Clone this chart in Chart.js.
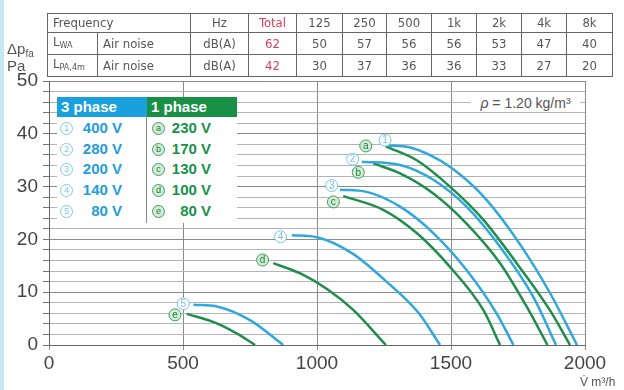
<!DOCTYPE html>
<html><head><meta charset="utf-8">
<script src="https://cdn.jsdelivr.net/npm/chart.js@4/dist/chart.umd.min.js"></script>
<style>
html,body{margin:0;padding:0;background:#fff;}
#wrap{position:relative;width:624px;height:390px;overflow:hidden;background:#fff;}
#strip{position:absolute;left:0;top:0;width:4px;height:390px;background:#c4e7f1;}
canvas{position:absolute;left:0;top:0;}
#tbl{position:absolute;left:47px;top:13px;border-collapse:collapse;font-family:"Liberation Sans Narrow","DejaVu Sans Condensed",sans-serif;font-size:13px;color:#555;table-layout:fixed;}
#tbl td{border:1px solid #666;height:18px;padding:0;text-align:center;line-height:18px;white-space:nowrap;overflow:hidden;}
#tbl td.l{text-align:left;padding-left:5px;}
#tbl td.red{color:#d9405a;}
#tbl sub{font-size:9px;vertical-align:-2px;}
.ytitle{position:absolute;left:7px;font-family:"Liberation Sans",sans-serif;font-size:15px;color:#555;line-height:16px;}
.ytitle sub{font-size:10px;vertical-align:-3px;}
#xtitle{position:absolute;left:580px;top:375px;font-family:"Liberation Sans",sans-serif;font-size:12px;color:#555;white-space:nowrap;}
#rho{position:absolute;left:471px;top:95px;width:109px;height:16px;background:#fff;font-family:"Liberation Sans",sans-serif;font-size:14px;color:#555;text-align:center;line-height:16px;}
#legend{position:absolute;left:57px;top:97px;width:180px;height:126px;background:#fff;font-family:"Liberation Sans",sans-serif;font-weight:bold;font-size:15px;}
#legend .h{position:absolute;top:0;height:20px;line-height:20px;color:#fff;padding-left:4px;box-sizing:border-box;}
#legend .div{position:absolute;left:89px;top:20px;width:1px;height:106px;background:#888;}
.row{position:absolute;height:20px;line-height:20px;}
.circ{position:absolute;width:11px;height:11px;border-radius:50%;font-weight:normal;font-size:9px;line-height:11px;text-align:center;}
</style></head>
<body>
<div id="wrap">
<canvas id="c" width="624" height="390"></canvas>
<div id="strip"></div>
<table id="tbl"></table>
<div class="ytitle" style="top:41px;">Δp<sub>fa</sub></div>
<div class="ytitle" style="top:58px;">Pa</div>
<div id="xtitle">V̇ m³/h</div>
<div id="rho"><i>ρ</i> = 1.20 kg/m³</div>
<div id="legend"></div>
</div>
<script>
// ---- table data ----
const freqBands = ['125','250','500','1k','2k','4k','8k'];
const lwaValues = [50,57,56,56,53,47,40];
const lpaValues = [30,37,36,36,33,27,20];
const lwaTotal = 62, lpaTotal = 42;

// ---- axis ticks ----
const xTicks = [0,500,1000,1500,2000];
const yTicks = [0,10,20,30,40,50];

// ---- legend ----
const threePhaseLabels = ['1','2','3','4','5'];
const threePhaseVolts = ['400 V','280 V','200 V','140 V','80 V'];
const onePhaseLabels = ['a','b','c','d','e'];
const onePhaseVolts = ['230 V','170 V','130 V','100 V','80 V'];

// ---- curves (m3/h, Pa) ----
const c1x = [1260,1340,1420,1500,1620,1745,1870,1970];
const c1y = [37.8,37.5,36.0,33.6,28.2,20.0,9.8,0];
const cax = [1256,1372,1496,1621,1745,1869,1944];
const cay = [37.6,35.0,30.0,23.7,15.5,6.6,0];
const c2x = [1167,1310,1434,1558,1683,1807,1892];
const c2y = [34.7,34.1,31.3,26.2,18.6,9.1,0];
const cbx = [1210,1310,1434,1558,1683,1782,1860];
const cby = [34.4,32.5,28.7,23.0,15.5,7.3,0];
const c3x = [1086,1185,1310,1434,1558,1670,1733];
const c3y = [29.4,29.0,26.2,21.2,14.2,6.0,0];
const ccx = [1098,1247,1372,1496,1621,1683];
const ccy = [28.2,25.6,21.2,14.8,6.6,0];
const c4x = [906,1000,1130,1255,1380,1459];
const c4y = [20.8,20.4,17.4,12.2,6.0,0];
const cdx = [837,940,1040,1136,1257];
const cdy = [15.5,13.5,10.5,6.6,0];
const c5x = [539,626,750,874];
const c5y = [7.6,7.3,4.7,0];
const cex = [514,626,700,769];
const cey = [5.9,4.1,2.2,0];

// ---- curve markers ----
const markerText = ['1','a','2','b','3','c','4','d','5','e'];
const markerX = [1254,1182,1133,1154,1055,1061,864,797,501,470];
const markerY = [38.8,37.7,35.2,32.7,30.2,27.1,20.5,16.1,7.8,5.7];

const BLUE = '#2ea8dd', GREEN = '#1f8e4c';

// build table
(function(){
  const t = document.getElementById('tbl');
  const widths = [50,93,58,48,46,44,45,45,45,45,46];
  let cg = '<colgroup>' + widths.map(w=>'<col style="width:'+w+'px">').join('') + '</colgroup>';
  let r1 = '<tr><td class="l" colspan="2">Frequency</td><td>Hz</td><td class="red">Total</td>' + freqBands.map(f=>'<td>'+f+'</td>').join('') + '</tr>';
  let r2 = '<tr><td class="l">L<sub>WA</sub></td><td class="l">Air noise</td><td>dB(A)</td><td class="red">'+lwaTotal+'</td>' + lwaValues.map(v=>'<td>'+v+'</td>').join('') + '</tr>';
  let r3 = '<tr><td class="l">L<sub>PA,4m</sub></td><td class="l">Air noise</td><td>dB(A)</td><td class="red">'+lpaTotal+'</td>' + lpaValues.map(v=>'<td>'+v+'</td>').join('') + '</tr>';
  t.innerHTML = cg + r1 + r2 + r3;
})();

// build legend
(function(){
  const L = document.getElementById('legend');
  let h = '<div class="h" style="left:0;width:90px;background:#1ba0de;">3 phase</div>';
  h += '<div class="h" style="left:90px;width:90px;background:#189147;">1 phase</div>';
  h += '<div class="div"></div>';
  for (let i=0;i<5;i++){
    const top = 21 + i*20.7;
    h += '<div class="circ" style="left:3px;top:'+(top+4)+'px;border:1px solid #7fcbe9;color:#7fcbe9;background:#fff;">'+threePhaseLabels[i]+'</div>';
    h += '<div class="row" style="left:20px;width:45px;text-align:right;top:'+top+'px;color:#1f9ddb;">'+threePhaseVolts[i]+'</div>';
    h += '<div class="circ" style="left:95px;top:'+(top+4)+'px;border:1px solid #3f9f5e;color:#1e7d3e;background:#d3ecd8;">'+onePhaseLabels[i]+'</div>';
    h += '<div class="row" style="left:110px;width:44px;text-align:right;top:'+top+'px;color:#17914a;">'+onePhaseVolts[i]+'</div>';
  }
  L.innerHTML = h;
})();

function pts(xs, ys){ return xs.map((x,i)=>({x:x, y:ys[i]})); }
function ds(xs, ys, color){
  return {data: pts(xs,ys), showLine:true, borderColor:color, borderWidth:2.5, pointRadius:0,
          cubicInterpolationMode:'monotone', fill:false};
}

const markerPlugin = {
  id:'markers',
  afterDatasetsDraw(chart){
    const ctx = chart.ctx, x = chart.scales.x, y = chart.scales.y;
    markerText.forEach((t,i)=>{
      const px = x.getPixelForValue(markerX[i]), py = y.getPixelForValue(markerY[i]);
      const isNum = /\d/.test(t);
      ctx.save();
      ctx.beginPath(); ctx.arc(px,py,6,0,Math.PI*2);
      ctx.fillStyle = isNum ? '#ffffff' : '#d3ecd8';
      ctx.fill();
      ctx.lineWidth = 1; ctx.strokeStyle = isNum ? '#74c6e6' : '#3f9f5e'; ctx.stroke();
      ctx.fillStyle = isNum ? '#74c6e6' : '#1e7d3e';
      ctx.font = '10px "Liberation Sans", sans-serif';
      ctx.textAlign = 'center'; ctx.textBaseline = 'middle';
      ctx.fillText(t, px, py+0.5);
      ctx.restore();
    });
  }
};

new Chart(document.getElementById('c'), {
  type:'scatter',
  data:{datasets:[
    ds(c1x,c1y,BLUE), ds(cax,cay,GREEN),
    ds(c2x,c2y,BLUE), ds(cbx,cby,GREEN),
    ds(c3x,c3y,BLUE), ds(ccx,ccy,GREEN),
    ds(c4x,c4y,BLUE), ds(cdx,cdy,GREEN),
    ds(c5x,c5y,BLUE), ds(cex,cey,GREEN)
  ]},
  options:{
    responsive:false, animation:false, devicePixelRatio:1,
    layout:{padding:{left:0,right:39,top:81,bottom:0}},
    plugins:{legend:{display:false}, tooltip:{enabled:false}},
    scales:{
      x:{type:'linear', min:xTicks[0], max:xTicks[xTicks.length-1],
         afterBuildTicks(s){ s.ticks = xTicks.map(v=>({value:v})); },
         afterFit(s){ s.height = 45; },
         grid:{color:'#8a8a8a', lineWidth:1, drawTicks:true, tickLength:5},
         border:{color:'#666'},
         ticks:{padding:2, color:'#444', autoSkip:false, maxRotation:0,
                font:{family:'"Liberation Sans", sans-serif', size:19},
                callback:(v)=> String(v)}},
      y:{type:'linear', min:yTicks[0], max:yTicks[yTicks.length-1],
         afterBuildTicks(s){ const t=[]; for(let v=yTicks[0]; v<=yTicks[yTicks.length-1]; v+=2) t.push({value:v}); s.ticks=t; },
         ticks:{padding:5, color:'#444', autoSkip:false, font:{family:'"Liberation Sans", sans-serif', size:19},
                callback:(v)=> yTicks.includes(Math.round(v)) && Math.abs(v-Math.round(v))<1e-6 ? String(Math.round(v)) : ''},
         afterFit(s){ s.width = 49; },
         grid:{color:(c)=> (c.tick && Math.round(c.tick.value)%10===0) ? '#8a8a8a' : '#b4b4b4', lineWidth:1, drawTicks:true, tickLength:6, tickColor:'#777'},
         border:{color:'#666'}}
    }
  },
  plugins:[markerPlugin]
});
</script>
</body></html>
